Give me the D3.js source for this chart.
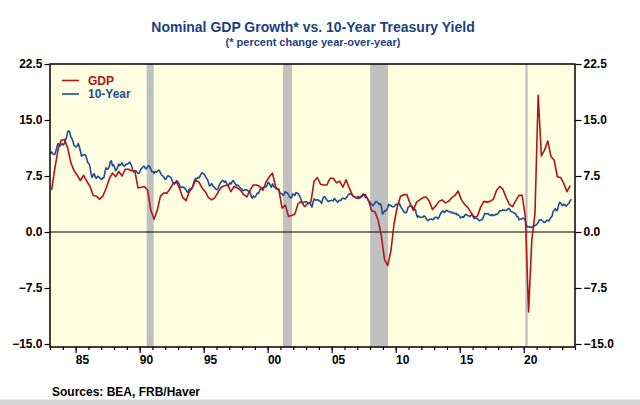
<!DOCTYPE html>
<html>
<head>
<meta charset="utf-8">
<script src="https://cdn.jsdelivr.net/npm/d3@7"></script>
<style>
  body { margin: 0; background: #ffffff; }
  svg { display: block; font-family: "Liberation Sans", Arial, sans-serif; }
  .tick text { font-weight: bold; font-size: 12px; fill: #000; }
</style>
</head>
<body>
<div id="chart"></div>
<script>
// Nominal GDP, % change year-over-year, quarterly from 1983Q1 to 2023Q3
const gdpStartYear = 1983
const gdpYoY = [
  5.6, 8.5, 11.0, 12.3,   // 1983
  12.4, 11.3, 9.3, 8.2,   // 1984
  7.6, 6.9, 7.6, 6.8,     // 1985
  6.1, 4.9, 4.8, 4.4,     // 1986
  4.8, 5.8, 7.1, 7.9,     // 1987
  7.4, 8.1, 7.5, 8.4,     // 1988
  8.4, 8.2, 8.2, 5.9,     // 1989
  6.0, 6.1, 5.6, 2.9,     // 1990
  1.7, 2.9, 4.8, 5.2,     // 1991
  5.2, 5.8, 6.5, 6.7,     // 1992
  5.8, 4.6, 4.2, 5.4,     // 1993
  6.0, 6.9, 6.7, 5.9,     // 1994
  5.4, 4.6, 4.3, 4.6,     // 1995
  5.3, 6.0, 6.2, 6.3,     // 1996
  5.4, 6.1, 5.9, 5.6,     // 1997
  5.0, 4.7, 5.6, 6.3,     // 1998
  6.3, 6.1, 5.6, 6.7,     // 1999
  7.4, 7.9, 6.0, 5.6,     // 2000
  3.2, 3.6, 2.1, 2.2,     // 2001
  2.4, 3.8, 4.1, 3.4,     // 2002
  3.8, 4.0, 6.8, 7.3,     // 2003
  6.4, 6.3, 6.3, 7.2,     // 2004
  7.2, 6.6, 6.8, 6.0,     // 2005
  7.0, 5.9, 4.9, 4.6,     // 2006
  4.5, 4.9, 5.0, 4.2,     // 2007
  2.8, 2.7, 1.6, -0.5,    // 2008
  -3.7, -4.5, -2.5, 1.2,  // 2009
  3.4, 4.8, 5.0, 5.0,     // 2010
  3.8, 2.9, 4.0, 4.3,     // 2011
  4.6, 4.7, 4.1, 3.0,     // 2012
  3.5, 4.1, 4.3, 3.9,     // 2013
  4.1, 4.6, 4.9, 5.5,     // 2014
  4.3, 3.7, 3.3, 2.6,     // 2015
  2.0, 2.1, 3.3, 4.1,     // 2016
  4.0, 4.1, 4.4, 5.6,     // 2017
  6.1, 5.7, 4.6, 3.7,     // 2018
  3.4, 4.2, 4.9, 4.9,     // 2019
  2.0, -10.7, -1.1, 2.5,  // 2020
  18.3, 10.2, 11.0, 12.2, // 2021
  10.1, 9.6, 7.4, 7.3,    // 2022
  6.5, 5.4, 6.2           // 2023
]

// 10-Year Treasury yield, %, monthly from Jan 1983 to Sep 2023
const tenYearStartYear = 1983
const tenYear = [
  10.46, 10.72, 10.51, 10.40, 10.38, 10.85, 11.38, 11.85, 11.65, 11.54, 11.69, 11.83, // 1983
  11.67, 11.84, 12.32, 12.63, 13.41, 13.56, 13.36, 12.72, 12.52, 12.16, 11.57, 11.50, // 1984
  11.38, 11.51, 11.86, 11.43, 10.85, 10.16, 10.31, 10.33, 10.37, 10.24, 9.78, 9.26,   // 1985
  9.19, 8.70, 7.78, 7.30, 7.71, 7.80, 7.30, 7.17, 7.45, 7.43, 7.25, 7.11,             // 1986
  7.08, 7.25, 7.25, 8.02, 8.61, 8.40, 8.45, 8.76, 9.42, 9.52, 8.86, 8.99,             // 1987
  8.67, 8.21, 8.37, 8.72, 9.09, 8.92, 9.06, 9.26, 8.98, 8.80, 8.96, 9.11,             // 1988
  9.09, 9.17, 9.36, 9.18, 8.86, 8.28, 8.02, 8.11, 8.19, 8.01, 7.87, 7.84,             // 1989
  8.21, 8.47, 8.59, 8.79, 8.76, 8.48, 8.47, 8.75, 8.89, 8.72, 8.39, 8.08,             // 1990
  8.09, 7.85, 8.11, 8.04, 8.07, 8.28, 8.27, 7.90, 7.65, 7.53, 7.42, 7.09,             // 1991
  7.03, 7.34, 7.54, 7.48, 7.39, 7.26, 6.84, 6.59, 6.42, 6.59, 6.87, 6.77,             // 1992
  6.60, 6.26, 5.98, 5.97, 6.04, 5.96, 5.81, 5.68, 5.36, 5.33, 5.72, 5.77,             // 1993
  5.75, 5.97, 6.48, 6.97, 7.18, 7.10, 7.30, 7.24, 7.46, 7.74, 7.96, 7.81,             // 1994
  7.78, 7.47, 7.20, 7.06, 6.63, 6.17, 6.28, 6.49, 6.20, 6.04, 5.93, 5.71,             // 1995
  5.65, 5.81, 6.27, 6.51, 6.74, 6.91, 6.87, 6.64, 6.83, 6.53, 6.20, 6.30,             // 1996
  6.58, 6.42, 6.69, 6.89, 6.71, 6.49, 6.22, 6.30, 6.21, 6.03, 5.88, 5.81,             // 1997
  5.54, 5.57, 5.65, 5.64, 5.65, 5.50, 5.46, 5.34, 4.81, 4.53, 4.83, 4.65,             // 1998
  4.72, 5.00, 5.23, 5.18, 5.54, 5.90, 5.79, 5.94, 5.92, 6.11, 6.03, 6.28,             // 1999
  6.66, 6.52, 6.26, 5.99, 6.44, 6.10, 6.05, 5.83, 5.80, 5.74, 5.72, 5.24,             // 2000
  5.16, 5.10, 4.89, 5.14, 5.39, 5.28, 5.24, 4.97, 4.73, 4.57, 4.65, 5.09,             // 2001
  5.04, 4.91, 5.28, 5.21, 5.16, 4.93, 4.65, 4.26, 3.87, 3.94, 4.05, 4.03,             // 2002
  4.05, 3.90, 3.81, 3.96, 3.57, 3.33, 3.98, 4.45, 4.27, 4.29, 4.30, 4.27,             // 2003
  4.15, 4.08, 3.83, 4.35, 4.72, 4.73, 4.50, 4.28, 4.13, 4.10, 4.19, 4.23,             // 2004
  4.22, 4.17, 4.50, 4.34, 4.14, 4.00, 4.18, 4.26, 4.20, 4.46, 4.54, 4.47,             // 2005
  4.42, 4.57, 4.72, 4.99, 5.11, 5.11, 5.09, 4.88, 4.72, 4.73, 4.60, 4.56,             // 2006
  4.76, 4.72, 4.56, 4.69, 4.75, 5.10, 5.00, 4.67, 4.52, 4.53, 4.15, 4.10,             // 2007
  3.74, 3.74, 3.51, 3.68, 3.88, 4.10, 4.01, 3.89, 3.69, 3.81, 3.53, 2.42,             // 2008
  2.52, 2.87, 2.82, 2.93, 3.29, 3.72, 3.56, 3.59, 3.40, 3.39, 3.40, 3.59,             // 2009
  3.73, 3.69, 3.73, 3.85, 3.42, 3.20, 3.01, 2.70, 2.65, 2.54, 2.76, 3.29,             // 2010
  3.39, 3.58, 3.41, 3.46, 3.17, 3.00, 3.00, 2.30, 1.98, 2.15, 2.01, 1.98,             // 2011
  1.97, 1.97, 2.17, 2.05, 1.80, 1.62, 1.53, 1.68, 1.72, 1.75, 1.65, 1.72,             // 2012
  1.91, 1.98, 1.96, 1.76, 1.93, 2.30, 2.58, 2.74, 2.81, 2.62, 2.72, 2.90,             // 2013
  2.86, 2.71, 2.72, 2.71, 2.56, 2.60, 2.54, 2.42, 2.53, 2.30, 2.33, 2.21,             // 2014
  1.88, 1.98, 2.04, 1.94, 2.20, 2.36, 2.32, 2.17, 2.17, 2.07, 2.26, 2.24,             // 2015
  2.09, 1.78, 1.89, 1.81, 1.81, 1.64, 1.50, 1.56, 1.63, 1.76, 2.14, 2.49,             // 2016
  2.43, 2.42, 2.48, 2.30, 2.30, 2.19, 2.32, 2.21, 2.20, 2.36, 2.35, 2.40,             // 2017
  2.58, 2.86, 2.84, 2.87, 2.98, 2.91, 2.89, 2.89, 3.00, 3.15, 3.12, 2.83,             // 2018
  2.71, 2.68, 2.57, 2.53, 2.40, 2.07, 2.06, 1.63, 1.70, 1.71, 1.81, 1.86,             // 2019
  1.76, 1.50, 0.87, 0.66, 0.67, 0.73, 0.62, 0.65, 0.68, 0.79, 0.87, 0.93,             // 2020
  1.08, 1.26, 1.61, 1.64, 1.62, 1.52, 1.32, 1.28, 1.37, 1.58, 1.56, 1.47,             // 2021
  1.76, 1.93, 2.13, 2.75, 2.90, 3.14, 2.90, 2.90, 3.52, 3.98, 3.89, 3.62,             // 2022
  3.53, 3.75, 3.66, 3.46, 3.57, 3.75, 3.90, 4.17, 4.38                                // 2023
]

// recessions (start, end) in decimal years
const recessions = [[1990.55, 1991.1], [2001.2, 2001.9], [2008.0, 2009.4], [2020.12, 2020.3]]

const yTicks = [-15, -7.5, 0, 7.5, 15, 22.5]
const xMajorYears = [1985, 1990, 1995, 2000, 2005, 2010, 2015, 2020]
const xLabels = ["85", "90", "95", "00", "05", "10", "15", "20"]
const seriesNames = ["GDP", "10-Year"]
const seriesColors = ["#b5121b", "#1f4d94"]

const W = 640, H = 405
const plot = { left: 50, right: 575, top: 64, bottom: 347 }

const svg = d3.select("#chart").append("svg")
  .attr("width", W).attr("height", H)

const x = d3.scaleLinear().domain([1983, 2024]).range([plot.left, plot.right])
const y = d3.scaleLinear().domain([-15, 22.5]).range([344, plot.top])

// bottom grey strip of the page
svg.append("rect").attr("x", 0).attr("y", 400).attr("width", W).attr("height", 5).attr("fill", "#d6d6d6")
svg.append("line").attr("x1", 0).attr("x2", W).attr("y1", 399.5).attr("y2", 399.5).attr("stroke", "#ececec")

// plot background
svg.append("rect")
  .attr("x", plot.left).attr("y", plot.top)
  .attr("width", plot.right - plot.left).attr("height", plot.bottom - plot.top)
  .attr("fill", "#ffffe1")

// recession bars
svg.selectAll("rect.rec")
  .data(recessions)
  .enter().append("rect")
  .attr("class", "rec")
  .attr("x", d => x(d[0]))
  .attr("width", d => x(d[1]) - x(d[0]))
  .attr("y", plot.top)
  .attr("height", plot.bottom - plot.top)
  .attr("fill", "#c0c0c0")

// zero line
svg.append("line")
  .attr("x1", plot.left).attr("x2", plot.right)
  .attr("y1", y(0)).attr("y2", y(0))
  .attr("stroke", "#000").attr("stroke-width", 1.2)

// series
const gdpData = gdpYoY.map((v, i) => ({ t: gdpStartYear + (i + 0.5) / 4, v: v }))
const tenData = tenYear.map((v, i) => ({ t: tenYearStartYear + (i + 0.5) / 12, v: v }))

const line = d3.line().x(d => x(d.t)).y(d => y(d.v))

svg.append("path").datum(tenData)
  .attr("fill", "none").attr("stroke", seriesColors[1]).attr("stroke-width", 1.6)
  .attr("stroke-linejoin", "round").attr("d", line)

svg.append("path").datum(gdpData)
  .attr("fill", "none").attr("stroke", seriesColors[0]).attr("stroke-width", 1.6)
  .attr("stroke-linejoin", "round").attr("d", line)

// frame
svg.append("rect")
  .attr("x", plot.left).attr("y", plot.top)
  .attr("width", plot.right - plot.left).attr("height", plot.bottom - plot.top)
  .attr("fill", "none").attr("stroke", "#000").attr("stroke-width", 1.5)

// y axes
const leftAxis = svg.append("g")
  .attr("transform", "translate(" + (plot.left - 0.5) + ",0)")
  .call(d3.axisLeft(y).tickValues(yTicks).tickSize(5).tickPadding(2).tickFormat(d3.format(".1f")))
leftAxis.select(".domain").remove()

const rightAxis = svg.append("g")
  .attr("transform", "translate(" + (plot.right + 0.5) + ",0)")
  .call(d3.axisRight(y).tickValues(yTicks).tickSize(6).tickPadding(2).tickFormat(d3.format(".1f")))
rightAxis.select(".domain").remove()

// x axis: minor yearly ticks, major 5-year ticks with labels at mid-year
const minorAxis = svg.append("g")
  .attr("transform", "translate(0," + plot.bottom + ")")
  .call(d3.axisBottom(x).tickValues(d3.range(1983, 2025)).tickSize(3).tickFormat(""))
minorAxis.select(".domain").remove()

const majorAxis = svg.append("g")
  .attr("transform", "translate(0," + plot.bottom + ")")
  .call(d3.axisBottom(x).tickValues(xMajorYears).tickSize(6).tickPadding(2)
    .tickFormat((d, i) => xLabels[i]))
majorAxis.select(".domain").remove()
majorAxis.selectAll("text").attr("dx", x(1983.5) - x(1983))

svg.selectAll(".tick line").attr("stroke", "#000").attr("stroke-width", 1.2)

// titles
svg.append("text")
  .attr("x", 313).attr("y", 32)
  .attr("text-anchor", "middle")
  .style("font-size", "14px").style("font-weight", "bold")
  .attr("fill", "#1c3f7c")
  .text("Nominal GDP Growth* vs. 10-Year Treasury Yield")

svg.append("text")
  .attr("x", 313).attr("y", 46)
  .attr("text-anchor", "middle")
  .style("font-size", "11px").style("font-weight", "bold")
  .attr("fill", "#1c3f7c")
  .text("(* percent change year-over-year)")

// legend
const legend = svg.selectAll("g.legend")
  .data(seriesNames)
  .enter().append("g")
  .attr("class", "legend")
  .attr("transform", (d, i) => "translate(62," + (80.5 + i * 13.5) + ")")
legend.append("line")
  .attr("x1", 0).attr("x2", 17)
  .attr("stroke", (d, i) => seriesColors[i]).attr("stroke-width", 1.6)
legend.append("text")
  .attr("x", 26).attr("dy", "0.36em")
  .style("font-size", "12px").style("font-weight", "bold")
  .attr("fill", (d, i) => seriesColors[i])
  .text(d => d)

// source note
svg.append("text")
  .attr("x", 52).attr("y", 396)
  .style("font-size", "12px").style("font-weight", "bold")
  .attr("fill", "#000")
  .text("Sources:  BEA, FRB/Haver")
</script>
</body>
</html>
